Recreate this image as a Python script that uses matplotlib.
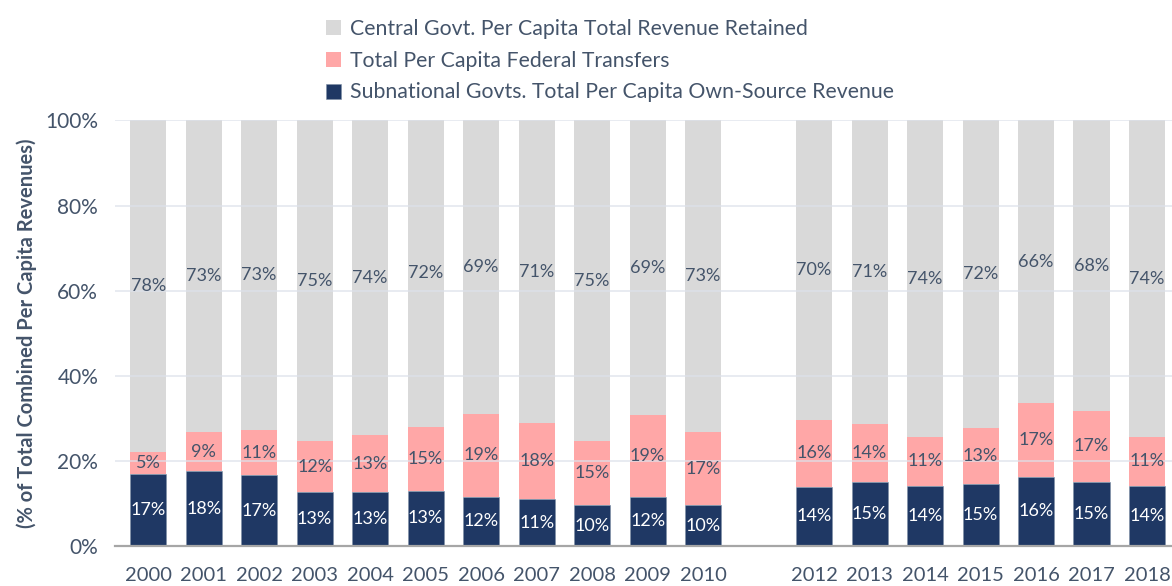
import matplotlib.pyplot as plt
import numpy as np

plt.rcParams['font.family'] = ['Lato', 'DejaVu Sans']

years = ["2000", "2001", "2002", "2003", "2004", "2005", "2006", "2007", "2008", "2009", "2010",
         "", "2012", "2013", "2014", "2015", "2016", "2017", "2018"]
nan = np.nan
subnational = [17.0, 17.6, 16.6, 12.7, 12.8, 13.0, 11.6, 11.1, 9.6, 11.6, 9.6,
               nan, 14.0, 15.1, 14.2, 14.6, 16.3, 15.1, 14.2]
transfers = [5.2, 9.1, 10.6, 11.9, 13.2, 15.1, 19.4, 17.8, 15.0, 19.2, 17.1,
             nan, 15.6, 13.7, 11.4, 13.2, 17.4, 16.7, 11.4]
central = [77.8, 73.3, 72.8, 75.4, 74.0, 71.9, 69.0, 71.1, 75.4, 69.2, 73.3,
           nan, 70.4, 71.2, 74.4, 72.2, 66.3, 68.2, 74.4]

c_dark = "#1f3864"
c_pink = "#ffa7a7"
c_gray = "#d9d9d9"
c_text = "#44546a"

fig = plt.figure(figsize=(11.72, 5.86), dpi=100)
ax = fig.add_axes([0.098, 0.068, 0.902, 0.7265])

x = np.arange(len(years))
sub = np.array(subnational)
tra = np.array(transfers)
cen = np.array(central)
w = 0.65

b1 = ax.bar(x, sub, w, color=c_dark, edgecolor="#7f8fa6", linewidth=0.4, zorder=2)
b2 = ax.bar(x, tra, w, bottom=sub, color=c_pink, zorder=2)
b3 = ax.bar(x, cen, w, bottom=sub + tra, color=c_gray, zorder=2)

# gridlines drawn faintly over the bars like the original
for gy in [20, 40, 60, 80, 100]:
    ax.axhline(gy, color="#dde1ea", linewidth=1.2, alpha=0.8, zorder=3)

for i in range(len(years)):
    if np.isnan(sub[i]):
        continue
    ax.text(x[i], sub[i] / 2, f"{sub[i]:.0f}%", ha="center", va="center",
            color="white", fontsize=13, zorder=4)
    ax.text(x[i], sub[i] + tra[i] / 2, f"{tra[i]:.0f}%", ha="center", va="center",
            color=c_text, fontsize=13, zorder=4)
    ax.text(x[i], sub[i] + tra[i] + cen[i] / 2, f"{cen[i]:.0f}%", ha="center", va="center",
            color=c_text, fontsize=13, zorder=4)

ax.set_xlim(-0.6, 18.45)
ax.set_ylim(0, 100)
ax.set_xticks(x)
ax.set_xticklabels(years, fontsize=14.5, color=c_text)
ax.set_yticks([0, 20, 40, 60, 80, 100])
ax.set_yticklabels(["0%", "20%", "40%", "60%", "80%", "100%"], fontsize=15, color=c_text)
ax.tick_params(axis="both", length=0)
ax.tick_params(axis="x", pad=15)
ax.tick_params(axis="y", pad=12)
for s in ["top", "right", "left"]:
    ax.spines[s].set_visible(False)
ax.spines["bottom"].set_color("#a6a6a6")
ax.spines["bottom"].set_linewidth(1.6)
ax.spines["bottom"].set_zorder(5)

ax.set_ylabel("(% of Total Combined Per Capita Revenues)", fontsize=14.5,
              fontweight="bold", color=c_text, labelpad=6)

leg = fig.legend([b3, b2, b1],
                 ["Central Govt. Per Capita Total Revenue Retained",
                  "Total Per Capita Federal Transfers",
                  "Subnational Govts. Total Per Capita Own-Source Revenue"],
                 loc="upper left", bbox_to_anchor=(0.262, 1.0), frameon=False,
                 fontsize=15.3, handlelength=0.7, handleheight=0.7, handletextpad=0.4,
                 labelspacing=0.55)
for t in leg.get_texts():
    t.set_color(c_text)

fig.savefig("out.png", dpi=100)
